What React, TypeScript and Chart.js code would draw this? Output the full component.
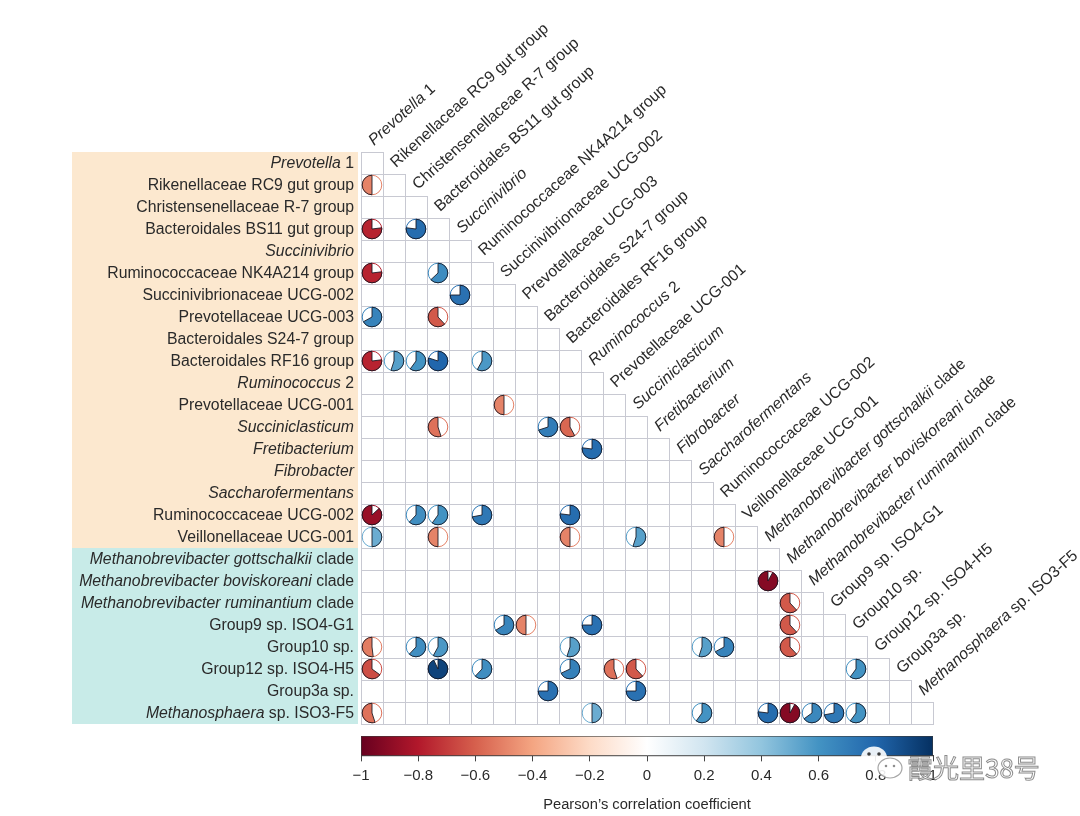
import React, { useEffect, useRef } from "react";
import { Chart, registerables } from "chart.js";
Chart.register(...registerables);

// ---------- data ----------
const taxa = [
  "_Prevotella_ 1",
  "Rikenellaceae RC9 gut group",
  "Christensenellaceae R-7 group",
  "Bacteroidales BS11 gut group",
  "_Succinivibrio_",
  "Ruminococcaceae NK4A214 group",
  "Succinivibrionaceae UCG-002",
  "Prevotellaceae UCG-003",
  "Bacteroidales S24-7 group",
  "Bacteroidales RF16 group",
  "_Ruminococcus_ 2",
  "Prevotellaceae UCG-001",
  "_Succiniclasticum_",
  "_Fretibacterium_",
  "_Fibrobacter_",
  "_Saccharofermentans_",
  "Ruminococcaceae UCG-002",
  "Veillonellaceae UCG-001",
  "_Methanobrevibacter gottschalkii_ clade",
  "_Methanobrevibacter boviskoreani_ clade",
  "_Methanobrevibacter ruminantium_ clade",
  "Group9 sp. ISO4-G1",
  "Group10 sp.",
  "Group12 sp. ISO4-H5",
  "Group3a sp.",
  "_Methanosphaera_ sp. ISO3-F5",
];
const bacteriaCount = 18;

const corRow = [
  1, 3, 3, 5, 5, 6, 7, 7, 9, 9, 9, 9, 9, 11, 12, 12, 12, 13,
  16, 16, 16, 16, 16, 17, 17, 17, 17, 17, 19, 20,
  21, 21, 21, 21, 22, 22, 22, 22, 22, 22, 22,
  23, 23, 23, 23, 23, 23, 23, 24, 24,
  25, 25, 25, 25, 25, 25, 25, 25,
];
const corCol = [
  0, 0, 2, 0, 3, 4, 0, 3, 0, 1, 2, 3, 5, 6, 3, 8, 9, 10,
  0, 2, 3, 5, 9, 0, 3, 9, 12, 16, 18, 19,
  6, 7, 10, 19, 0, 2, 3, 9, 15, 16, 19,
  0, 3, 5, 9, 11, 12, 22, 8, 12,
  0, 10, 15, 18, 19, 20, 21, 22,
];
const corValue = [
  -0.5, -0.77, 0.77, -0.77, 0.63, 0.75, 0.67, -0.62, -0.77, 0.55, 0.6, 0.8, 0.58, -0.5, -0.55, 0.7, -0.58, 0.77,
  -0.87, 0.62, 0.6, 0.72, 0.77, 0.5, -0.5, -0.5, 0.55, -0.5, -0.92, -0.62,
  0.66, -0.5, 0.75, -0.62, -0.52, 0.62, 0.58, 0.55, 0.55, 0.67, -0.62,
  -0.65, 0.93, 0.62, 0.68, -0.55, -0.62, 0.6, 0.75, 0.75,
  -0.55, 0.5, 0.6, 0.77, -0.92, 0.65, 0.72, 0.6,
];

const colorbarTicks = [-1, -0.8, -0.6, -0.4, -0.2, 0, 0.2, 0.4, 0.6, 0.8, 1];
const paletteRdBu = [
  "#67001F", "#B2182B", "#D6604D", "#F4A582", "#FDDBC7", "#FFFFFF",
  "#D1E5F0", "#92C5DE", "#4393C3", "#2166AC", "#053061",
];
const colorbarTitle = "Pearson’s correlation coefficient";
const watermark = "霞光里38号";

// ---------- helpers ----------
const FAMILY = '"Liberation Sans", Arial, Helvetica, sans-serif';
const LABEL_SIZE = 15.8;
const TEXT_COLOR = "#2a2a2a";

function hexToRgb(h: string) {
  const n = parseInt(h.slice(1), 16);
  return [(n >> 16) & 255, (n >> 8) & 255, n & 255];
}
function colorFor(v: number) {
  const t = Math.max(0, Math.min(1, (v + 1) / 2)) * (paletteRdBu.length - 1);
  const i = Math.min(paletteRdBu.length - 2, Math.floor(t));
  const f = t - i;
  const a = hexToRgb(paletteRdBu[i]);
  const b = hexToRgb(paletteRdBu[i + 1]);
  const c = a.map((av, k) => Math.round(av + (b[k] - av) * f));
  return `rgb(${c[0]},${c[1]},${c[2]})`;
}

function drawRich(ctx: CanvasRenderingContext2D, label: string, x: number, y: number, align: "left" | "right") {
  const segs = label
    .split("_")
    .map((t, i) => ({ t, it: i % 2 === 1 }))
    .filter((s) => s.t.length > 0);
  const fontFor = (it: boolean) => `${it ? "italic " : ""}${LABEL_SIZE}px ${FAMILY}`;
  const widths = segs.map((s) => {
    ctx.font = fontFor(s.it);
    return ctx.measureText(s.t).width;
  });
  const total = widths.reduce((a, b) => a + b, 0);
  let cx = align === "right" ? x - total : x;
  ctx.textAlign = "left";
  segs.forEach((s, k) => {
    ctx.font = fontFor(s.it);
    ctx.fillText(s.t, cx, y);
    cx += widths[k];
  });
}

const matrixPlugin = {
  id: "matrixPlugin",
  beforeDatasetsDraw(chart: any) {
    const { ctx } = chart;
    const xs = chart.scales.x;
    const ys = chart.scales.y;
    const n = taxa.length;
    const left = (v: number) => xs.getPixelForValue(v - 0.5);
    const top = (v: number) => ys.getPixelForValue(v - 0.5);
    ctx.save();
    // label panels
    const panelL = 72;
    const panelR = left(0) - 3;
    ctx.fillStyle = "#FCE8CF";
    ctx.fillRect(panelL, top(0), panelR - panelL, top(bacteriaCount) - top(0));
    ctx.fillStyle = "#C8EBE8";
    ctx.fillRect(panelL, top(bacteriaCount), panelR - panelL, top(n) - top(bacteriaCount));

    // grid cells (lower triangle incl. diagonal)
    ctx.fillStyle = "#FFFFFF";
    ctx.strokeStyle = "#C8C9D2";
    ctx.lineWidth = 1;
    for (let i = 0; i < n; i++) {
      for (let j = 0; j <= i; j++) {
        const x0 = Math.round(left(j)) + 0.5;
        const y0 = Math.round(top(i)) + 0.5;
        const x1 = Math.round(left(j + 1)) + 0.5;
        const y1 = Math.round(top(i + 1)) + 0.5;
        ctx.fillRect(x0, y0, x1 - x0, y1 - y0);
        ctx.strokeRect(x0, y0, x1 - x0, y1 - y0);
      }
    }

    // row labels
    ctx.fillStyle = TEXT_COLOR;
    ctx.textBaseline = "middle";
    for (let i = 0; i < n; i++) {
      drawRich(ctx, taxa[i], left(0) - 7, ys.getPixelForValue(i) + 0.5, "right");
    }
    // column labels, rotated
    ctx.textBaseline = "alphabetic";
    const ang = (-42 * Math.PI) / 180;
    for (let j = 0; j < n; j++) {
      ctx.save();
      ctx.translate(xs.getPixelForValue(j) + 2, top(j) - 6);
      ctx.rotate(ang);
      drawRich(ctx, taxa[j], 0, 0, "left");
      ctx.restore();
    }
    ctx.restore();
  },
  afterDatasetsDraw(chart: any) {
    const { ctx } = chart;
    const meta = chart.getDatasetMeta(0);
    const data = chart.data.datasets[0].data;
    const xs = chart.scales.x;
    const rad = Math.abs(xs.getPixelForValue(1) - xs.getPixelForValue(0)) * 0.445;
    ctx.save();
    meta.data.forEach((el: any, k: number) => {
      const v = data[k].r;
      const col = colorFor(v);
      const cx = el.x;
      const cy = el.y;
      // background circle
      ctx.beginPath();
      ctx.arc(cx, cy, rad, 0, Math.PI * 2);
      ctx.fillStyle = "#FFFFFF";
      ctx.fill();
      ctx.lineWidth = 1;
      ctx.strokeStyle = col;
      ctx.stroke();
      // sector
      const start = -Math.PI / 2;
      const sweep = 2 * Math.PI * Math.abs(v);
      ctx.beginPath();
      ctx.moveTo(cx, cy);
      if (v >= 0) ctx.arc(cx, cy, rad, start, start + sweep, false);
      else ctx.arc(cx, cy, rad, start, start - sweep, true);
      ctx.closePath();
      ctx.fillStyle = col;
      ctx.fill();
      ctx.strokeStyle = "rgba(20,20,30,0.85)";
      ctx.lineWidth = 1;
      ctx.stroke();
    });
    ctx.restore();
  },
};

const colorbarPlugin = {
  id: "colorbarPlugin",
  beforeDatasetsDraw(chart: any) {
    const { ctx, chartArea } = chart;
    const xs = chart.scales.x;
    const x0 = xs.getPixelForValue(-1);
    const x1 = xs.getPixelForValue(1);
    const g = ctx.createLinearGradient(x0, 0, x1, 0);
    paletteRdBu.forEach((c, i) => g.addColorStop(i / (paletteRdBu.length - 1), c));
    ctx.save();
    ctx.fillStyle = g;
    ctx.fillRect(x0, chartArea.top, x1 - x0, chartArea.bottom - chartArea.top);
    ctx.strokeStyle = "rgba(60,60,60,0.6)";
    ctx.lineWidth = 1;
    ctx.strokeRect(x0 + 0.5, chartArea.top + 0.5, x1 - x0 - 1, chartArea.bottom - chartArea.top);
    ctx.restore();
  },
  afterDraw(chart: any) {
    const { ctx } = chart;
    ctx.save();
    // wechat-like icon
    ctx.lineWidth = 1.2;
    ctx.strokeStyle = "rgba(150,150,150,0.85)";
    ctx.fillStyle = "rgba(255,255,255,0.9)";
    ctx.beginPath();
    ctx.ellipse(874, 32, 13, 11.5, 0, 0, Math.PI * 2);
    ctx.fill();
    ctx.beginPath();
    ctx.ellipse(890, 42, 12, 10, 0, 0, Math.PI * 2);
    ctx.fill();
    ctx.stroke();
    ctx.fillStyle = "rgba(40,40,40,0.9)";
    ctx.beginPath();
    ctx.arc(869, 28, 1.8, 0, Math.PI * 2);
    ctx.arc(879, 28, 1.8, 0, Math.PI * 2);
    ctx.fill();
    ctx.fillStyle = "rgba(130,130,130,0.9)";
    ctx.beginPath();
    ctx.arc(886, 40, 1.3, 0, Math.PI * 2);
    ctx.arc(894, 40, 1.3, 0, Math.PI * 2);
    ctx.fill();
    // text
    ctx.font = `26px "Noto Sans CJK SC", sans-serif`;
    ctx.textBaseline = "middle";
    ctx.textAlign = "left";
    ctx.fillStyle = "rgba(255,255,255,0.85)";
    ctx.fillText(watermark, 907, 42);
    ctx.strokeStyle = "rgba(120,120,120,0.85)";
    ctx.lineWidth = 1;
    ctx.strokeText(watermark, 907, 42);
    ctx.restore();
  },
};

export default function App() {
  const mainRef = useRef<HTMLCanvasElement>(null);
  const barRef = useRef<HTMLCanvasElement>(null);

  useEffect(() => {
    const main = new Chart(mainRef.current as HTMLCanvasElement, {
      type: "scatter",
      data: {
        datasets: [
          {
            data: corValue.map((v, k) => ({ x: corCol[k], y: corRow[k], r: v })),
            pointRadius: 0,
            pointHoverRadius: 0,
          } as any,
        ],
      },
      options: {
        animation: false,
        responsive: false,
        events: [],
        layout: { padding: { left: 361, top: 152, right: 147, bottom: 2 } },
        plugins: { legend: { display: false }, tooltip: { enabled: false } },
        scales: {
          x: { type: "linear", min: -0.5, max: 25.5, display: false },
          y: { type: "linear", min: -0.5, max: 25.5, reverse: true, display: false },
        },
      },
      plugins: [matrixPlugin as any],
    });

    const fmt = (v: number) => {
      if (Math.abs(v) < 1e-9) return "0";
      const s = Number(Math.abs(v).toFixed(1)).toString();
      return v < 0 ? "−" + s : s;
    };
    const bar = new Chart(barRef.current as HTMLCanvasElement, {
      type: "scatter",
      data: { datasets: [{ data: [], pointRadius: 0 }] },
      options: {
        animation: false,
        responsive: false,
        events: [],
        layout: { padding: { left: 361, top: 10, right: 147, bottom: 0 } },
        plugins: {
          legend: { display: false },
          tooltip: { enabled: false },
          title: {
            display: true,
            position: "bottom",
            text: colorbarTitle,
            color: TEXT_COLOR,
            font: { family: FAMILY, size: 14.7, weight: "normal" },
            padding: { top: 7, bottom: 2 },
          },
        },
        scales: {
          x: {
            type: "linear",
            min: -1,
            max: 1,
            position: "bottom",
            afterBuildTicks: (axis: any) => {
              axis.ticks = colorbarTicks.map((v) => ({ value: v }));
            },
            ticks: {
              autoSkip: false,
              maxRotation: 0,
              padding: 5,
              color: TEXT_COLOR,
              font: { family: FAMILY, size: 15 },
              callback: (v: any) => fmt(Number(v)),
            },
            grid: { drawOnChartArea: false, drawTicks: true, tickLength: 6, color: "#444" },
            border: { display: true, color: "#444" },
          },
          y: { type: "linear", min: 0, max: 1, display: false },
        },
      },
      plugins: [colorbarPlugin as any],
    });
    return () => {
      main.destroy();
      bar.destroy();
    };
  }, []);

  return (
    <div style={{ position: "absolute", left: 0, top: 0, width: 1080, height: 816, background: "#fff" }}>
      <canvas ref={mainRef} width={1080} height={726} style={{ position: "absolute", left: 0, top: 0, display: "block" }} />
      <canvas ref={barRef} width={1080} height={90} style={{ position: "absolute", left: 0, top: 726, display: "block" }} />
    </div>
  );
}
